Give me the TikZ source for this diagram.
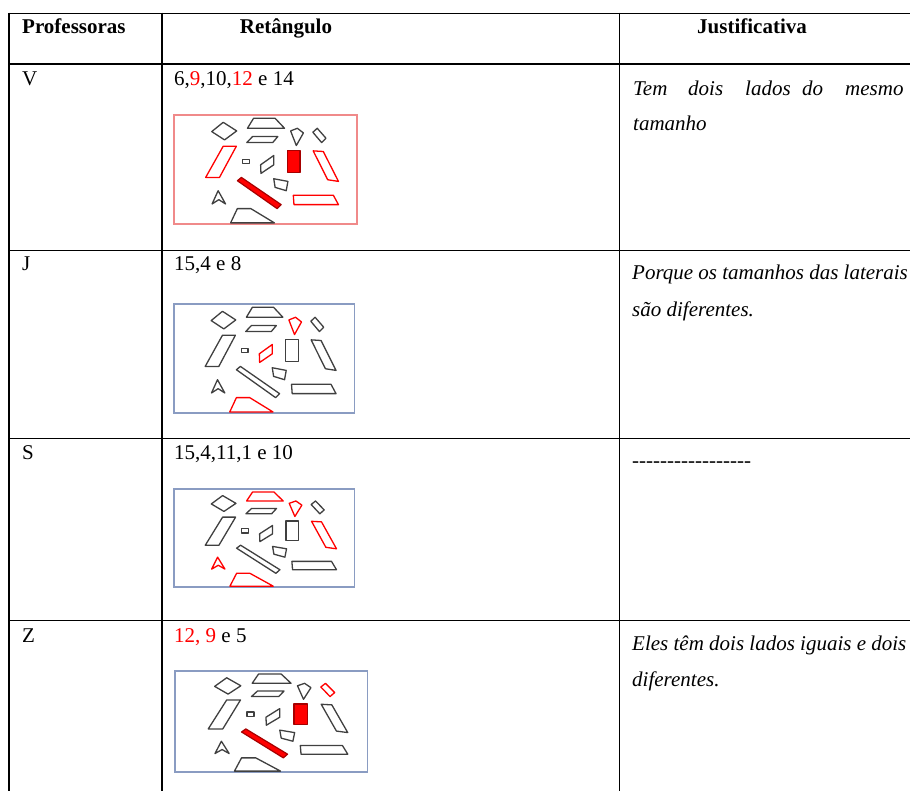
\documentclass[tikz,border=0pt]{standalone}
\usepackage{fontspec}
\setmainfont{Liberation Serif}
\definecolor{framered}{HTML}{F08A8A}
\definecolor{frameblue}{HTML}{8A9CC2}
\definecolor{pure}{HTML}{FF0000}
\newcommand\hy{-\kern0pt}
\tikzset{
  gridline/.style={line width=1.3pt, draw=black},
  txt/.style={anchor=base west, inner sep=0pt, font=\fontsize{21}{25}\selectfont},
  hdr/.style={anchor=base, inner sep=0pt, font=\fontsize{21}{25}\selectfont\bfseries},
  hdrw/.style={anchor=base west, inner sep=0pt, font=\fontsize{21}{25}\selectfont\bfseries},
  jus/.style={anchor=base west, inner sep=0pt, font=\fontsize{21}{25}\selectfont\itshape},
  blk/.style={draw=black!75, line width=1.3pt, line join=round},
  rln/.style={draw=pure, line width=1.3pt, line join=round},
  rfl/.style={draw=red!65!black, fill=pure, line width=1.2pt, line join=round},
  sh1/.style=blk, sh2/.style=blk, sh3/.style=blk, sh4/.style=blk, sh5/.style=blk,
  sh6/.style=blk, sh7/.style=blk, sh8/.style=blk, sh9/.style=blk, sh10/.style=blk,
  sh11/.style=blk, sh12/.style=blk, sh13/.style=blk, sh14/.style=blk, sh15/.style=blk,
  frameA/.style={draw=framered, line width=1.3pt},
  frameB/.style={draw=frameblue, line width=1.3pt}
}
\newcommand\figshapes{%
  \draw[sh1] (112,50) -- (146,22) -- (186,48) -- (150,75) -- cycle;
  \draw[sh2] (218,40) -- (236,10) -- (300,10) -- (328,40) -- cycle;
  \draw[sh3] (216,83) -- (233,65) -- (308,65) -- (293,83) -- cycle;
  \draw[sh4] (346,48) -- (366,40) -- (384,54) -- (363,92) -- cycle;
  \draw[sh5] (412,52) -- (425,40) -- (451,70) -- (438,83) -- cycle;
  \draw[sh6] (94,188) -- (146,94) -- (185,94) -- (135,188) -- cycle;
  \draw[sh7] (203,133) rectangle (223,147);
  \draw[sh8] (257,150) -- (296,122) -- (296,150) -- (258,176) -- cycle;
  \draw[sh9] (336,107) rectangle (374,173);
  \draw[sh10] (413,108) -- (443,110) -- (488,200) -- (456,195) -- cycle;
  \draw[sh11] (188,198) -- (200,188) -- (318,270) -- (306,282) -- cycle;
  \draw[sh12] (296,192) -- (338,200) -- (333,228) -- (300,218) -- cycle;
  \draw[sh13] (113,268) -- (131,228) -- (153,268) -- (133,255) -- cycle;
  \draw[sh14] (354,242) -- (473,242) -- (488,270) -- (356,270) -- cycle;
  \draw[sh15] (168,325) -- (188,282) -- (228,282) -- (298,325) -- cycle;
}
\begin{document}
\begin{tikzpicture}[x=1pt,y=-1pt]
\useasboundingbox (0,0) rectangle (910,791);
\clip (0,0) rectangle (910,791);
% table rules
\draw[gridline] (9,13.3) -- (912,13.3);
\draw[gridline] (9,64) -- (912,64);
\draw[gridline] (9,250.5) -- (912,250.5);
\draw[gridline] (9,438.3) -- (912,438.3);
\draw[gridline] (9,620.7) -- (912,620.7);
\draw[gridline] (9,12.7) -- (9,795);
\draw[gridline] (162,12.7) -- (162,795);
\draw[gridline] (619.3,12.7) -- (619.3,795);
% headers
\node[hdrw] (hprof) at (22,34) {Professoras};
\node[hdr] (hret) at (286,34) {Retângulo};
\node[hdr] (hjus) at (752,34) {Justificativa};
% column 1
\node[txt] (pV) at (22,86) {V};
\node[txt] (pJ) at (22,271) {J};
\node[txt] (pS) at (22,459) {S};
\node[txt] (pZ) at (22,642) {Z};
% column 2 texts
\node[txt] (rV) at (174,86) {6,\textcolor{pure}{9},10,\textcolor{pure}{12} e 14};
\node[txt] (rJ) at (174,271) {15,4 e 8};
\node[txt] (rS) at (174,459) {15,4,11,1 e 10};
\node[txt] (rZ) at (174,642) {\textcolor{pure}{12, 9} e 5};
% column 3 texts
\node[jus] (jV1) at (633,96) {Tem};
\node[jus] (jV2) at (688,96) {dois};
\node[jus] (jV3) at (745,96) {lados};
\node[jus] (jV4) at (802,96) {do};
\node[jus] (jV5) at (845,96) {mesmo};
\node[jus] (jV6) at (633,131) {tamanho};
\node[jus] (jJ1) at (632,280) {Porque os tamanhos das laterais};
\node[jus] (jJ2) at (632,317) {são diferentes.};
\node[txt] (jS1) at (632,467) {\hy\hy\hy\hy\hy\hy\hy\hy\hy\hy\hy\hy\hy\hy\hy\hy\hy};
\node[jus] (jZ1) at (632,650) {Eles têm dois lados iguais e dois};
\node[jus] (jZ2) at (632,686) {diferentes.};
% sketch 1 (V)
\begin{scope}[shift={(174,115)}, xscale=0.337, yscale=0.332,
  sh6/.style=rln, sh10/.style=rln, sh14/.style=rln, sh9/.style=rfl, sh11/.style=rfl]
  \draw[frameA] (0,0) rectangle (543,328);
  \figshapes
\end{scope}
% sketch 2 (J)
\begin{scope}[shift={(174,304)}, xscale=0.332, yscale=0.332,
  sh4/.style=rln, sh8/.style=rln, sh15/.style=rln]
  \draw[frameB] (0,0) rectangle (543,328);
  \figshapes
\end{scope}
% sketch 3 (S)
\begin{scope}[shift={(174,489)}, xscale=0.333, yscale=0.299,
  sh2/.style=rln, sh4/.style=rln, sh10/.style=rln, sh13/.style=rln, sh15/.style=rln]
  \draw[frameB] (0,0) rectangle (543,328);
  \figshapes
\end{scope}
% sketch 4 (Z)
\begin{scope}[shift={(175,671)}, xscale=0.354, yscale=0.308,
  sh5/.style=rln, sh9/.style=rfl, sh11/.style=rfl]
  \draw[frameB] (0,0) rectangle (543,328);
  \figshapes
\end{scope}
\end{tikzpicture}
\end{document}
